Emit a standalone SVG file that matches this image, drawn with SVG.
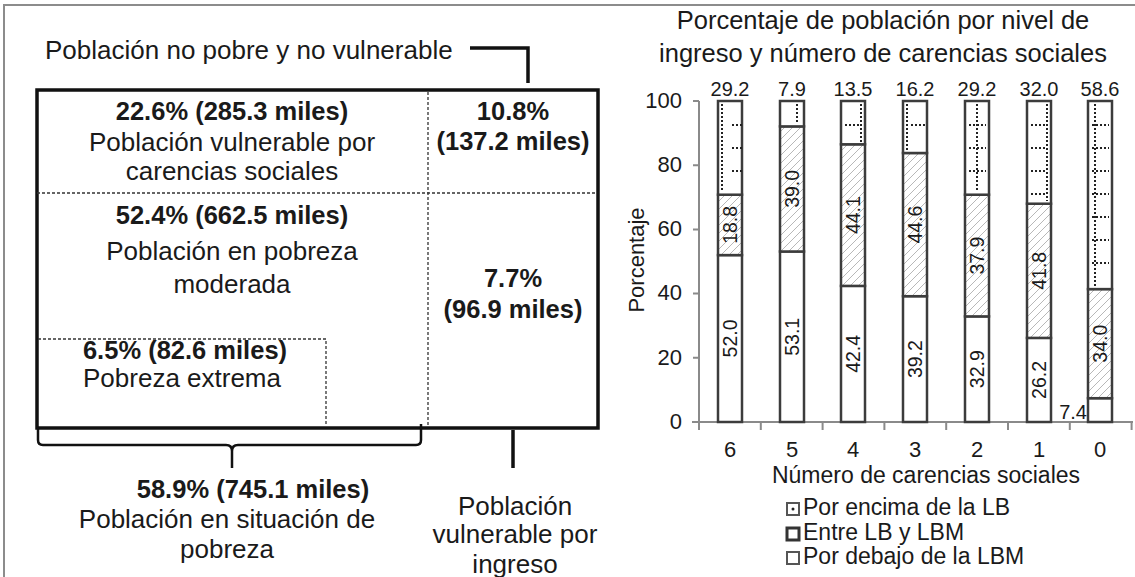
<svg xmlns="http://www.w3.org/2000/svg" width="1135" height="577" viewBox="0 0 1135 577">
<defs>
<pattern id="hatch" patternUnits="userSpaceOnUse" width="8" height="8">
<rect width="8" height="8" fill="#fff"/>
<path d="M-2,2 L2,-2 M0,8 L8,0 M6,10 L10,6" stroke="#b8b8b8" stroke-width="1"/>
</pattern>
</defs>
<style>
text{font-family:"Liberation Sans",Arial,sans-serif;fill:#1a1a1a}
.r{font-size:26px}
.b{font-size:25.5px;font-weight:bold}
.m{text-anchor:middle}
.e{text-anchor:end}
.thick{fill:none;stroke:#111;stroke-width:3.5}
.dash{fill:none;stroke:#333;stroke-width:1.3;stroke-dasharray:3 2}
.bar{stroke:#3c3c3c;stroke-width:2.5}
.dots{stroke:#222;stroke-width:2;stroke-dasharray:2 2;fill:none}
.ax{stroke:#8a8a8a;stroke-width:2;fill:none}
.t20{font-size:20px}
.t19{font-size:19.5px}
.t22{font-size:22px}
.t23{font-size:23px}
.t25{font-size:25.5px}
</style>
<rect width="1135" height="577" fill="#fff"/>
<path d="M4,577 V5 H1135" stroke="#8c8c8c" stroke-width="2" fill="none"/>

<g id="box">
<rect x="37" y="90" width="561" height="338" fill="#fff" class="thick"/>
<path class="dash" d="M37,193 H597 M428,92 V426 M38,339 H326 V426"/>
</g>

<g id="node-no-pobre">
<text class="r" x="45" y="59">Población no pobre y no vulnerable</text>
</g>
<g id="node-vuln-carencias">
<text class="b m" x="232" y="120">22.6% (285.3 miles)</text>
<text class="r m" x="232" y="151">Población vulnerable por</text>
<text class="r m" x="232" y="180">carencias sociales</text>
</g>
<g id="node-no-pobre-valor">
<text class="b m" x="513" y="120">10.8%</text>
<text class="b m" x="513" y="150">(137.2 miles)</text>
</g>
<g id="node-moderada">
<text class="b m" x="232" y="224">52.4% (662.5 miles)</text>
<text class="r m" x="232" y="260">Población en pobreza</text>
<text class="r m" x="232" y="293">moderada</text>
</g>
<g id="node-vuln-ingreso-valor">
<text class="b m" x="513" y="287">7.7%</text>
<text class="b m" x="513" y="318">(96.9 miles)</text>
</g>
<g id="node-extrema">
<text class="b m" x="185" y="359">6.5% (82.6 miles)</text>
<text class="r m" x="182" y="387">Pobreza extrema</text>
</g>
<g id="node-pobreza">
<text class="b m" x="253" y="498">58.9% (745.1 miles)</text>
<text class="r m" x="227" y="528">Población en situación de</text>
<text class="r m" x="227" y="558">pobreza</text>
</g>
<g id="node-vuln-ingreso">
<text class="r m" x="515" y="515">Población</text>
<text class="r m" x="515" y="543">vulnerable por</text>
<text class="r m" x="515" y="573">ingreso</text>
</g>

<g id="connectors">
<path class="thick" d="M470,48 H528 V83"/>
<path fill="none" stroke="#111" stroke-width="2.5" d="M38,429 V440 Q38,445 43,445 H226 Q232,445 232,451 V468 M232,451 Q232,445 238,445 H416 Q421,445 421,440 V424"/>
<path class="thick" d="M513,430 V468"/>
</g>

<g id="chart">
<text class="t25 m" x="883" y="29">Porcentaje de población por nivel de</text>
<text class="t25 m" x="883" y="62">ingreso y número de carencias sociales</text>
<text class="t22 m" transform="translate(644,260) rotate(-90)">Porcentaje</text>

<g id="axes">
<path class="ax" d="M699,101 V430 M693,101 H699 M693,165.2 H699 M693,229.4 H699 M693,293.6 H699 M693,357.8 H699 M692,422 H1133 M760.8,422 V430 M822.6,422 V430 M884.4,422 V430 M946.2,422 V430 M1008,422 V430 M1069.8,422 V430 M1131.6,422 V430"/>
<text class="t22 e" x="682" y="108">100</text>
<text class="t22 e" x="682" y="172">80</text>
<text class="t22 e" x="682" y="236">60</text>
<text class="t22 e" x="682" y="300">40</text>
<text class="t22 e" x="682" y="365">20</text>
<text class="t22 e" x="682" y="429">0</text>
<text class="t22 m" x="730" y="457">6</text>
<text class="t22 m" x="792" y="457">5</text>
<text class="t22 m" x="853" y="457">4</text>
<text class="t22 m" x="915" y="457">3</text>
<text class="t22 m" x="977" y="457">2</text>
<text class="t22 m" x="1039" y="457">1</text>
<text class="t22 m" x="1100" y="457">0</text>
<text class="t23 m" x="926" y="483">Número de carencias sociales</text>
</g>

<g id="bar-6">
<rect class="bar" x="718" y="255.1" width="24" height="166.9" fill="#fff"/>
<rect class="bar" x="718" y="194.7" width="24" height="60.4" fill="url(#hatch)"/>
<rect class="bar" x="718" y="101" width="24" height="93.7" fill="#fff"/>
<path class="dots" d="M722,104 V192 M732,125 H742 M732,148 H742 M732,171 H742"/>
<text class="t20 m" x="730" y="96">29.2</text>
<text class="t19 m" transform="translate(737,224.9) rotate(-90)">18.8</text>
<text class="t19 m" transform="translate(737,338.5) rotate(-90)">52.0</text>
</g>
<g id="bar-5">
<rect class="bar" x="780" y="251.5" width="24" height="170.5" fill="#fff"/>
<rect class="bar" x="780" y="126.4" width="24" height="125.1" fill="url(#hatch)"/>
<rect class="bar" x="780" y="101" width="24" height="25.4" fill="#fff"/>
<path class="dots" d="M797,104 V123"/>
<text class="t20 m" x="792" y="96">7.9</text>
<text class="t19 m" transform="translate(799,188.9) rotate(-90)">39.0</text>
<text class="t19 m" transform="translate(799,336.8) rotate(-90)">53.1</text>
</g>
<g id="bar-4">
<rect class="bar" x="841" y="285.9" width="24" height="136.1" fill="#fff"/>
<rect class="bar" x="841" y="144.3" width="24" height="141.6" fill="url(#hatch)"/>
<rect class="bar" x="841" y="101" width="24" height="43.3" fill="#fff"/>
<path class="dots" d="M861,104 V142 M845,125 H859"/>
<text class="t20 m" x="853" y="96">13.5</text>
<text class="t19 m" transform="translate(860,215.1) rotate(-90)">44.1</text>
<text class="t19 m" transform="translate(860,353.9) rotate(-90)">42.4</text>
</g>
<g id="bar-3">
<rect class="bar" x="903" y="296.2" width="24" height="125.8" fill="#fff"/>
<rect class="bar" x="903" y="153" width="24" height="143.2" fill="url(#hatch)"/>
<rect class="bar" x="903" y="101" width="24" height="52" fill="#fff"/>
<path class="dots" d="M907,104 V150 M911,125 H925"/>
<text class="t20 m" x="915" y="96">16.2</text>
<text class="t19 m" transform="translate(922,224.6) rotate(-90)">44.6</text>
<text class="t19 m" transform="translate(922,359.1) rotate(-90)">39.2</text>
</g>
<g id="bar-2">
<rect class="bar" x="965" y="316.4" width="24" height="105.6" fill="#fff"/>
<rect class="bar" x="965" y="194.7" width="24" height="121.7" fill="url(#hatch)"/>
<rect class="bar" x="965" y="101" width="24" height="93.7" fill="#fff"/>
<path class="dots" d="M977,104 V192 M969,125 H986 M969,148 H986 M969,171 H986"/>
<text class="t20 m" x="977" y="96">29.2</text>
<text class="t19 m" transform="translate(984,255.6) rotate(-90)">37.9</text>
<text class="t19 m" transform="translate(984,369.2) rotate(-90)">32.9</text>
</g>
<g id="bar-1">
<rect class="bar" x="1027" y="337.9" width="24" height="84.1" fill="#fff"/>
<rect class="bar" x="1027" y="203.7" width="24" height="134.2" fill="url(#hatch)"/>
<rect class="bar" x="1027" y="101" width="24" height="102.7" fill="#fff"/>
<path class="dots" d="M1047,104 V201 M1031,125 H1045 M1031,148 H1045 M1031,171 H1045 M1031,194 H1045"/>
<text class="t20 m" x="1039" y="96">32.0</text>
<text class="t19 m" transform="translate(1046,270.8) rotate(-90)">41.8</text>
<text class="t19 m" transform="translate(1046,380) rotate(-90)">26.2</text>
</g>
<g id="bar-0">
<rect class="bar" x="1088" y="398.2" width="24" height="23.8" fill="#fff"/>
<rect class="bar" x="1088" y="289.1" width="24" height="109.1" fill="url(#hatch)"/>
<rect class="bar" x="1088" y="101" width="24" height="188.1" fill="#fff"/>
<path class="dots" d="M1095,104 V286 M1092,125 H1109 M1092,148 H1109 M1092,171 H1109 M1092,194 H1109 M1092,217 H1109 M1092,240 H1109 M1092,263 H1109"/>
<text class="t20 m" x="1100" y="96">58.6</text>
<text class="t19 m" transform="translate(1107,343.7) rotate(-90)">34.0</text>
<text class="t20 e" x="1087" y="419">7.4</text>
</g>

<g id="legend">
<rect x="787" y="503" width="12" height="12" fill="#fff" stroke="#555" stroke-width="2"/>
<circle cx="793" cy="509" r="1.5" fill="#222"/>
<rect x="787" y="528" width="12" height="12" fill="#fff" stroke="#333" stroke-width="3"/>
<rect x="787" y="552" width="12" height="12" fill="#fff" stroke="#555" stroke-width="2"/>
<text class="t23" x="803" y="515">Por encima de la LB</text>
<text class="t23" x="803" y="540">Entre LB y LBM</text>
<text class="t23" x="803" y="564">Por debajo de la LBM</text>
</g>
</g>
</svg>
